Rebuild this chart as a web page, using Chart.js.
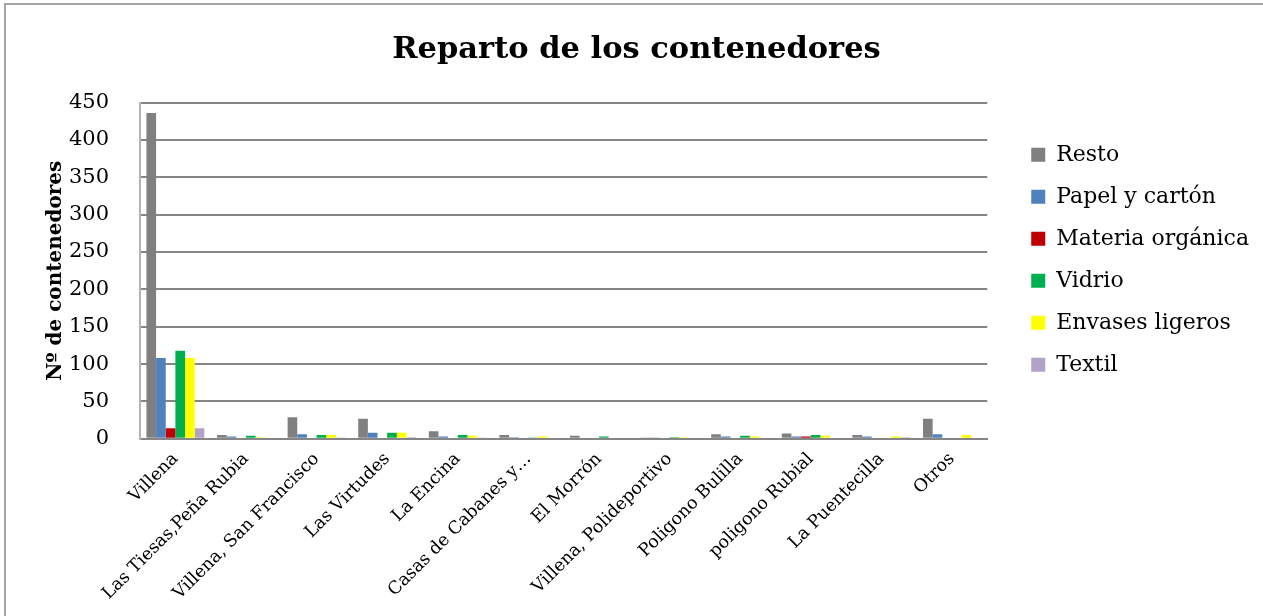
<!DOCTYPE html>
<html>
<head>
<meta charset="utf-8">
<script src="https://cdn.jsdelivr.net/npm/chart.js@4"></script>
<style>
  html, body { margin: 0; padding: 0; background: #fff; overflow: hidden; }
  #frame { position: absolute; left: 4px; top: 3px; width: 1400px; height: 800px; border: 2px solid #a6a6a6; }
  #wrap { position: absolute; left: 0; top: 0; width: 1263px; height: 616px; }
</style>
</head>
<body>
<div id="frame"></div>
<div id="wrap"><canvas id="myChart" width="1263" height="616"></canvas></div>
<script>
var categories = ['Villena', 'Las Tiesas,Peña Rubia', 'Villena, San Francisco', 'Las Virtudes',
    'La Encina', 'Casas de Cabanes y…', 'El Morrón', 'Villena, Polideportivo',
    'Poligono Bulilla', 'poligono Rubial', 'La Puentecilla', 'Otros'];

var resto     = [436, 5, 29, 27, 10, 5, 4, 1, 6, 7, 5, 27];
var papel     = [108, 3, 6, 8, 3, 2, 0, 1, 3, 3, 3, 6];
var organica  = [14, 0, 0, 0, 0, 0, 0, 0, 0, 3, 0, 0];
var vidrio    = [118, 4, 5, 8, 5, 1, 3, 2, 4, 5, 0, 0];
var envases   = [108, 2, 5, 8, 4, 3, 0, 2, 3, 4, 3, 5];
var textil    = [14, 0, 1, 2, 1, 0, 0, 0, 0, 0, 2, 0];

var yTicks = [0, 50, 100, 150, 200, 250, 300, 350, 400, 450];

var serif = 'DejaVu Serif';

var ctx = document.getElementById('myChart').getContext('2d');

var chart = new Chart(ctx, {
    type: 'bar',
    data: {
        labels: categories,
        datasets: [
            {label: 'Resto', data: resto, backgroundColor: '#808080'},
            {label: 'Papel y cartón', data: papel, backgroundColor: '#4f81bd'},
            {label: 'Materia orgánica', data: organica, backgroundColor: '#c00000'},
            {label: 'Vidrio', data: vidrio, backgroundColor: '#00b050'},
            {label: 'Envases ligeros', data: envases, backgroundColor: '#ffff00'},
            {label: 'Textil', data: textil, backgroundColor: '#b3a2c7'}
        ]
    },
    options: {
        responsive: false,
        animation: false,
        categoryPercentage: 0.82,
        barPercentage: 1.0,
        layout: {
            padding: {left: 14, right: 4, top: 10, bottom: 2}
        },
        plugins: {
            title: {
                display: true,
                text: 'Reparto de los contenedores',
                color: '#000',
                font: {family: serif, size: 30.5, weight: 'bold'},
                padding: {top: 22, bottom: 34}
            },
            legend: {
                position: 'right',
                fullSize: false,
                align: 'start',
                title: {
                    display: true,
                    text: ' ',
                    font: {size: 1},
                    padding: 10
                },
                labels: {
                    color: '#000',
                    font: {family: serif, size: 22},
                    boxWidth: 14,
                    boxHeight: 14,
                    padding: 20
                }
            },
            tooltip: {enabled: false}
        },
        scales: {
            x: {
                grid: {display: false, drawTicks: false},
                border: {color: '#868686', width: 2},
                ticks: {
                    color: '#000',
                    font: {family: serif, size: 17.5},
                    maxRotation: 45,
                    minRotation: 45,
                    autoSkip: false,
                    padding: 10
                }
            },
            y: {
                min: 0,
                max: 450,
                afterBuildTicks: function (scale) {
                    scale.ticks = yTicks.map(function (v) { return {value: v}; });
                },
                grid: {color: '#868686', lineWidth: 2, drawTicks: false},
                border: {color: '#b4b4b4', width: 2},
                ticks: {
                    color: '#000',
                    font: {family: serif, size: 21},
                    padding: 31
                },
                title: {
                    display: true,
                    text: 'Nº de contenedores',
                    color: '#000',
                    font: {family: serif, size: 20, weight: 'bold'},
                    padding: {top: 30, bottom: -30}
                }
            },
            // empty spacer between the plot and the legend
            gap: {
                position: 'right',
                display: false,
                afterFit: function (scale) { scale.width = 24; }
            }
        }
    }
});
</script>
</body>
</html>
